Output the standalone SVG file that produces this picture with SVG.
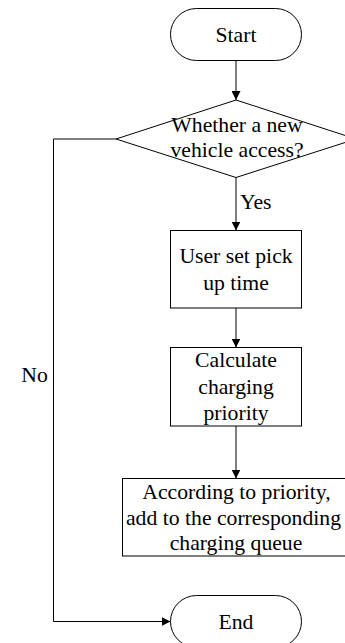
<svg xmlns="http://www.w3.org/2000/svg" width="345" height="643" viewBox="0 0 345 643">
<style>
.shape{fill:#fff;stroke:#000;stroke-width:1}
.conn{fill:none;stroke:#000;stroke-width:1}
text{font-family:"Liberation Serif","Times New Roman",serif;font-size:21.7px;fill:#000;text-anchor:middle}
</style>
<defs>
<marker id="arr" viewBox="0 0 10 10" refX="10" refY="5" markerWidth="9" markerHeight="9" markerUnits="userSpaceOnUse" orient="auto">
<path d="M0,0 L10,5 L0,10 Z" fill="#000"/>
</marker>
</defs>
<rect width="345" height="643" fill="#fff"/>
<g id="connectors">
<line class="conn" x1="236" y1="60" x2="236" y2="100" marker-end="url(#arr)"/>
<line class="conn" x1="236" y1="177" x2="236" y2="230.5" marker-end="url(#arr)"/>
<line class="conn" x1="236" y1="308" x2="236" y2="347.5" marker-end="url(#arr)"/>
<line class="conn" x1="236" y1="426" x2="236" y2="478.5" marker-end="url(#arr)"/>
<polyline class="conn" points="116,139 53.5,139 53.5,621.5 170.5,621.5" marker-end="url(#arr)"/>
<text x="240" y="209" style="text-anchor:start">Yes</text>
<text x="34.5" y="382">No</text>
</g>
<g id="start">
<rect class="shape" x="170.5" y="8.5" width="131" height="52" rx="26" ry="26"/>
<text x="236" y="42">Start</text>
</g>
<g id="decision">
<polygon class="shape" points="236,100 356,139 236,177.5 116,139"/>
<text x="237" y="132">Whether a new</text>
<text x="237" y="157">vehicle access?</text>
</g>
<g id="box1">
<rect class="shape" x="170.5" y="230.5" width="131" height="77.5"/>
<text x="236" y="263">User set pick</text>
<text x="236" y="290">up time</text>
</g>
<g id="box2">
<rect class="shape" x="170.5" y="347.5" width="131" height="78.5"/>
<text x="236" y="367">Calculate</text>
<text x="236" y="394">charging</text>
<text x="236" y="420">priority</text>
</g>
<g id="box3">
<rect class="shape" x="122.5" y="478.5" width="227" height="77.5"/>
<text x="236.5" y="499">According to priority,</text>
<text x="233.5" y="525">add to the corresponding</text>
<text x="236" y="550">charging queue</text>
</g>
<g id="end">
<rect class="shape" x="170.5" y="595.5" width="131" height="52" rx="26" ry="26"/>
<text x="236" y="629">End</text>
</g>
</svg>
